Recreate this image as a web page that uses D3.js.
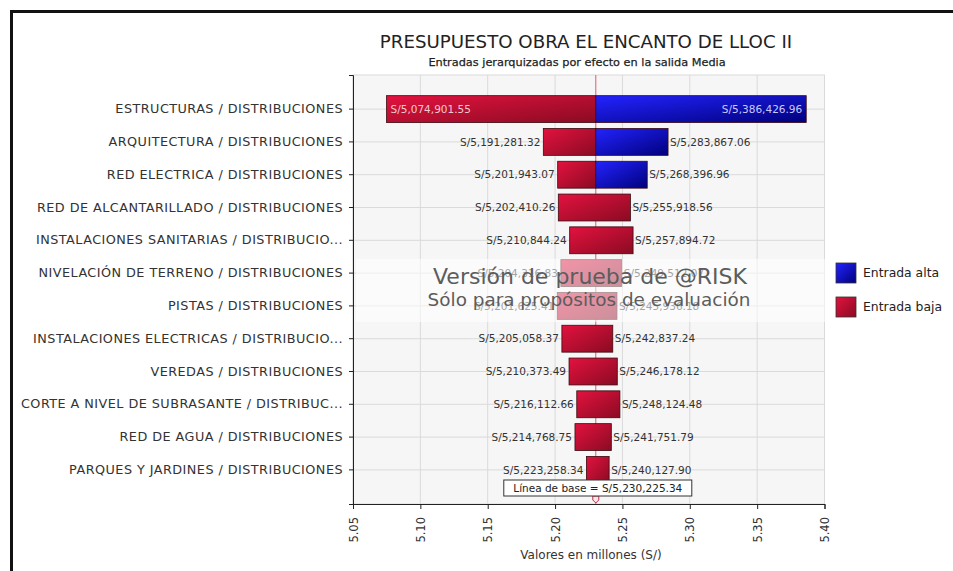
<!DOCTYPE html>
<html>
<head>
<meta charset="utf-8">
<script src="https://cdn.jsdelivr.net/npm/d3@7"></script>
<style>
  body { margin: 0; background: #fff; }
  text { font-family: "DejaVu Sans", sans-serif; }
</style>
</head>
<body>
<div id="chart"></div>
<script>
// tornado data (values in S/)
var categories = [
    "ESTRUCTURAS / DISTRIBUCIONES",
    "ARQUITECTURA / DISTRIBUCIONES",
    "RED ELECTRICA / DISTRIBUCIONES",
    "RED DE ALCANTARILLADO / DISTRIBUCIONES",
    "INSTALACIONES SANITARIAS / DISTRIBUCIO...",
    "NIVELACIÓN DE TERRENO / DISTRIBUCIONES",
    "PISTAS / DISTRIBUCIONES",
    "INSTALACIONES ELECTRICAS / DISTRIBUCIO...",
    "VEREDAS / DISTRIBUCIONES",
    "CORTE A NIVEL DE SUBRASANTE / DISTRIBUC...",
    "RED DE AGUA / DISTRIBUCIONES",
    "PARQUES Y JARDINES / DISTRIBUCIONES"
];
var lowValues = [5074901.55, 5191281.32, 5201943.07, 5202410.26, 5210844.24, 5204316.83,
    5201625.41, 5205058.37, 5210373.49, 5216112.66, 5214768.75, 5223258.34];
var highValues = [5386426.96, 5283867.06, 5268396.96, 5255918.56, 5257894.72, 5249512.07,
    5245936.18, 5242837.24, 5246178.12, 5248124.48, 5241751.79, 5240127.90];
// which input produced each side of the bar
var leftInput = ["baja", "baja", "baja", "baja", "baja", "baja", "baja", "baja", "baja", "baja", "baja", "baja"];
var rightInput = ["alta", "alta", "alta", "baja", "baja", "baja", "baja", "baja", "baja", "baja", "baja", "baja"];
var baseline = 5230225.34;
var xTicks = [5.05, 5.10, 5.15, 5.20, 5.25, 5.30, 5.35, 5.40];
var legendKeys = ["alta", "baja"];
var legendLabels = ["Entrada alta", "Entrada baja"];

var W = 953, H = 571;
var svg = d3.select("#chart").append("svg")
    .attr("width", W)
    .attr("height", H);

var defs = svg.append("defs");
var grads = { alta: ["#2323ff", "#00007c"], baja: ["#e3123f", "#8a0b22"] };
Object.keys(grads).forEach(function(k) {
    var g = defs.append("linearGradient").attr("id", "grad-" + k)
        .attr("x1", 0).attr("y1", 0).attr("x2", 1).attr("y2", 1);
    g.append("stop").attr("offset", "0%").attr("stop-color", grads[k][0]);
    g.append("stop").attr("offset", "100%").attr("stop-color", grads[k][1]);
});

// outer frame (right / bottom edges fall outside the picture)
svg.append("rect")
    .attr("x", 11.5).attr("y", 11.5)
    .attr("width", 980).attr("height", 600)
    .attr("fill", "none")
    .attr("stroke", "#111")
    .attr("stroke-width", 3);

var plot = { left: 353, right: 824.5, top: 75, bottom: 504 };

var x = d3.scaleLinear()
    .domain([xTicks[0] * 1e6, xTicks[xTicks.length - 1] * 1e6])
    .range([plot.left, plot.right]);

var y = d3.scaleBand()
    .domain(categories)
    .range([plot.top, plot.bottom])
    .paddingInner(0.18)
    .paddingOuter(0.63);

// titles
svg.append("text")
    .attr("x", 586).attr("y", 48)
    .attr("text-anchor", "middle")
    .attr("font-size", 18.2)
    .attr("fill", "#222")
    .text("PRESUPUESTO OBRA EL ENCANTO DE LLOC II");

svg.append("text")
    .attr("x", 577).attr("y", 66)
    .attr("text-anchor", "middle")
    .attr("font-size", 11.3)
    .attr("fill", "#222")
    .attr("stroke", "#222")
    .attr("stroke-width", 0.25)
    .text("Entradas jerarquizadas por efecto en la salida Media");

// plot background + grid
svg.append("rect")
    .attr("x", plot.left).attr("y", plot.top)
    .attr("width", plot.right - plot.left)
    .attr("height", plot.bottom - plot.top)
    .attr("fill", "#f6f6f6")
    .attr("stroke", "#dadada");

svg.append("g").selectAll("line")
    .data(xTicks)
    .enter().append("line")
    .attr("x1", function(d) { return x(d * 1e6); })
    .attr("x2", function(d) { return x(d * 1e6); })
    .attr("y1", plot.top).attr("y2", plot.bottom)
    .attr("stroke", "#dadada");

svg.append("g").selectAll("line")
    .data(categories)
    .enter().append("line")
    .attr("x1", plot.left).attr("x2", plot.right)
    .attr("y1", function(d) { return y(d) + y.bandwidth() / 2; })
    .attr("y2", function(d) { return y(d) + y.bandwidth() / 2; })
    .attr("stroke", "#dadada");

// baseline
svg.append("line")
    .attr("x1", x(baseline)).attr("x2", x(baseline))
    .attr("y1", plot.top).attr("y2", plot.bottom)
    .attr("stroke", "#e25b6e")
    .attr("stroke-width", 1);

// bars: one segment when both sides come from the same input
var segments = [];
categories.forEach(function(c, i) {
    if (leftInput[i] === rightInput[i]) {
        segments.push({ cat: c, x0: lowValues[i], x1: highValues[i], key: leftInput[i] });
    } else {
        segments.push({ cat: c, x0: lowValues[i], x1: baseline, key: leftInput[i] });
        segments.push({ cat: c, x0: baseline, x1: highValues[i], key: rightInput[i] });
    }
});

svg.append("g").selectAll("rect")
    .data(segments)
    .enter().append("rect")
    .attr("x", function(d) { return x(d.x0); })
    .attr("y", function(d) { return y(d.cat); })
    .attr("width", function(d) { return x(d.x1) - x(d.x0); })
    .attr("height", y.bandwidth())
    .attr("fill", function(d) { return "url(#grad-" + d.key + ")"; })
    .attr("stroke", "#3a0a10")
    .attr("stroke-width", 0.8);

// value labels
var fmt = function(v) { return "S/" + d3.format(",.2f")(v); };
var labels = svg.append("g").attr("font-size", 10.5);

categories.forEach(function(c, i) {
    var cy = y(c) + y.bandwidth() / 2;
    var lt = labels.append("text").attr("y", cy).attr("dy", "0.35em").text(fmt(lowValues[i]));
    var w = lt.node().getComputedTextLength();
    if (x(lowValues[i]) - 4 - w < plot.left) {
        lt.attr("x", x(lowValues[i]) + 4).attr("text-anchor", "start").attr("fill", "#f3c9d2");
    } else {
        lt.attr("x", x(lowValues[i]) - 3).attr("text-anchor", "end").attr("fill", "#333");
    }
    var rt = labels.append("text").attr("y", cy).attr("dy", "0.35em").text(fmt(highValues[i]));
    w = rt.node().getComputedTextLength();
    if (x(highValues[i]) + 3 + w > plot.right) {
        rt.attr("x", x(highValues[i]) - 4).attr("text-anchor", "end").attr("fill", "#c9c9ff");
    } else {
        rt.attr("x", x(highValues[i]) + 2).attr("text-anchor", "start").attr("fill", "#333");
    }
});

// axes
var yAxis = svg.append("g")
    .attr("transform", "translate(" + plot.left + ",0)")
    .call(d3.axisLeft(y).tickSize(4).tickSizeOuter(4).tickPadding(6));
yAxis.selectAll("text")
    .attr("font-family", "DejaVu Sans")
    .attr("font-size", 12.8)
    .attr("letter-spacing", 0.45)
    .attr("fill", "#333");

var xAxis = svg.append("g")
    .attr("transform", "translate(0," + plot.bottom + ")")
    .call(d3.axisBottom(x)
        .tickValues(xTicks.map(function(d) { return d * 1e6; }))
        .tickFormat(function(d) { return d3.format(".2f")(d / 1e6); })
        .tickSize(5).tickSizeOuter(5));
xAxis.selectAll("text")
    .attr("font-family", "DejaVu Sans")
    .attr("font-size", 11.5)
    .attr("fill", "#333")
    .attr("transform", "rotate(-90)")
    .attr("x", -13).attr("y", 0)
    .attr("dy", "0.35em")
    .attr("text-anchor", "end");
svg.selectAll(".domain, .tick line").attr("stroke", "#222");

svg.append("text")
    .attr("x", 591).attr("y", 559)
    .attr("text-anchor", "middle")
    .attr("font-size", 12)
    .attr("fill", "#333")
    .text("Valores en millones (S/)");

// baseline marker + label box
svg.append("path")
    .attr("transform", "translate(" + x(baseline) + "," + (plot.bottom - 3) + ")")
    .attr("d", "M-3,-5L3,-5L3,-1L0,2L-3,-1Z")
    .attr("fill", "#fbe4e8")
    .attr("stroke", "#c0304a");

var baseLabel = svg.append("g").attr("transform", "translate(" + (x(baseline) + 2) + ",488)");
baseLabel.append("rect")
    .attr("x", -94).attr("y", -8)
    .attr("width", 188).attr("height", 16)
    .attr("fill", "#fff")
    .attr("stroke", "#333");
baseLabel.append("text")
    .attr("text-anchor", "middle")
    .attr("dy", "0.35em")
    .attr("font-size", 10.5)
    .attr("fill", "#222")
    .text("Línea de base = " + fmt(baseline));

// trial-version watermark
svg.append("rect")
    .attr("x", 356).attr("y", 259)
    .attr("width", 470).attr("height", 63)
    .attr("fill", "#fff")
    .attr("opacity", 0.55);
svg.append("text")
    .attr("x", 590).attr("y", 284)
    .attr("text-anchor", "middle")
    .attr("font-size", 22)
    .attr("fill", "#5c5c5c")
    .text("Versión de prueba de @RISK");
svg.append("text")
    .attr("x", 589).attr("y", 306)
    .attr("text-anchor", "middle")
    .attr("font-size", 18.4)
    .attr("fill", "#5c5c5c")
    .text("Sólo para propósitos de evaluación");

// legend
var legend = svg.append("g").selectAll("g")
    .data(legendKeys)
    .enter().append("g")
    .attr("transform", function(d, i) { return "translate(836," + (263 + i * 34) + ")"; });
legend.append("rect")
    .attr("width", 20).attr("height", 20)
    .attr("fill", function(d) { return "url(#grad-" + d + ")"; })
    .attr("stroke", "#333")
    .attr("stroke-width", 0.8);
legend.append("text")
    .attr("x", 27).attr("y", 10)
    .attr("dy", "0.35em")
    .attr("font-size", 12.4)
    .attr("fill", "#222")
    .text(function(d, i) { return legendLabels[i]; });
</script>
</body>
</html>
